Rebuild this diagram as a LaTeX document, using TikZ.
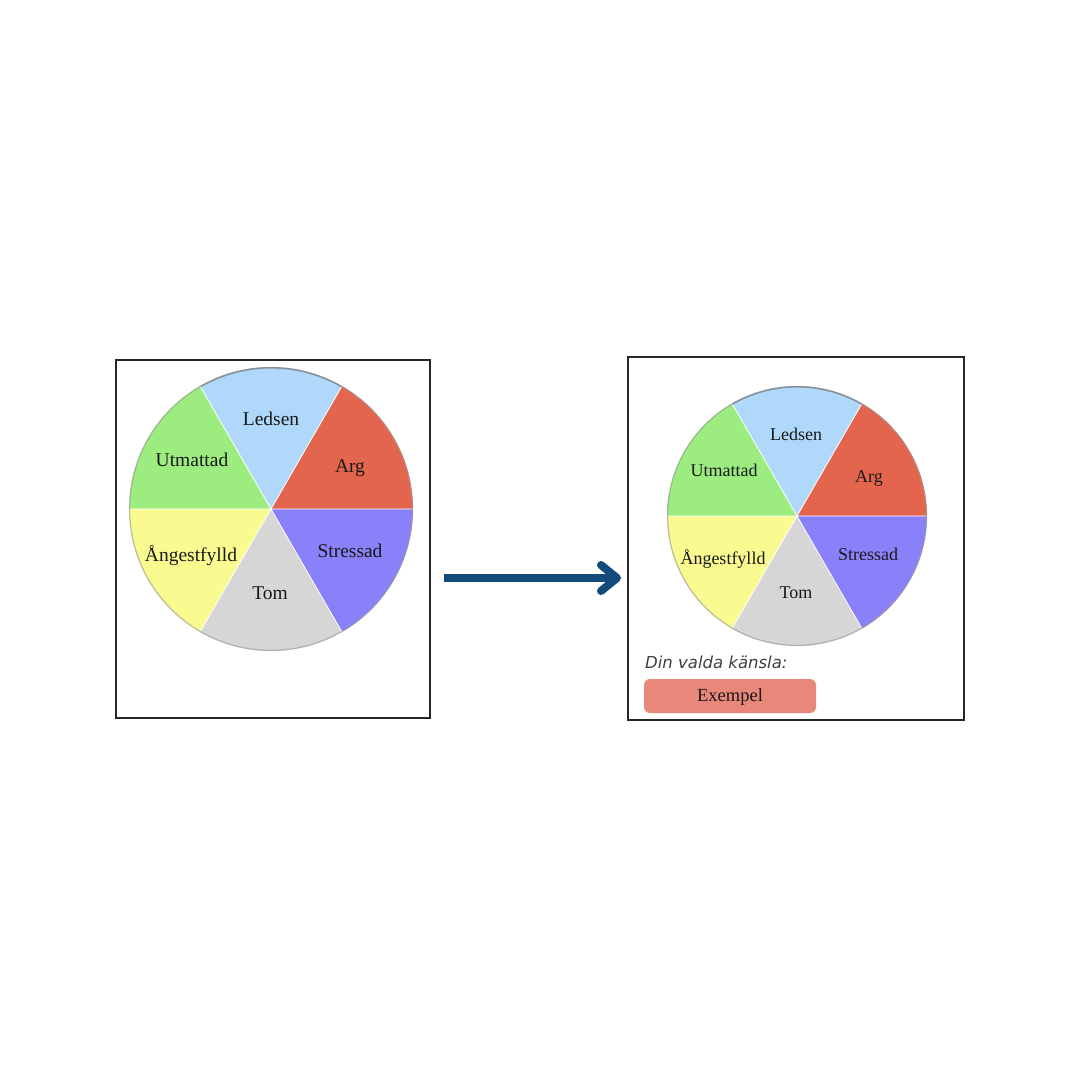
\documentclass[tikz,border=0pt]{standalone}
\usepackage{fontspec}
\usetikzlibrary{calc}
\setmainfont{Liberation Serif}
\newfontfamily\uisans{DejaVu Sans}
\definecolor{cArg}{HTML}{E4654E}
\definecolor{cLed}{HTML}{B0D8FA}
\definecolor{cUtm}{HTML}{9DEC80}
\definecolor{cAng}{HTML}{F9FB90}
\definecolor{cTom}{HTML}{D6D6D6}
\definecolor{cStr}{HTML}{8A80F9}
\definecolor{arrowblue}{HTML}{134A7C}
\definecolor{btn}{HTML}{E8877A}
\tikzset{
  frame/.style={draw=black!85, line width=1.5pt},
  sector/.style={draw=white, line width=0.8pt, line join=round},
  lbl/.style={font=\fontsize{19.5}{21}\selectfont, text=black!90, inner sep=0pt},
  lbls/.style={font=\fontsize{18}{20}\selectfont, text=black!90, inner sep=0pt},
  rim/.style={draw=black!40, line width=1.3pt, opacity=0.6},
}
% with y pointing down, a visual angle a is written as -a
\newcommand{\wheel}[2]{%
  \fill[cArg] (#1) -- ++(0:#2) arc[start angle=0,end angle=-60,radius=#2] -- cycle;
  \fill[cLed] (#1) -- ++(-60:#2) arc[start angle=-60,end angle=-120,radius=#2] -- cycle;
  \fill[cUtm] (#1) -- ++(-120:#2) arc[start angle=-120,end angle=-180,radius=#2] -- cycle;
  \fill[cAng] (#1) -- ++(-180:#2) arc[start angle=-180,end angle=-240,radius=#2] -- cycle;
  \fill[cTom] (#1) -- ++(-240:#2) arc[start angle=-240,end angle=-300,radius=#2] -- cycle;
  \fill[cStr] (#1) -- ++(-300:#2) arc[start angle=-300,end angle=-360,radius=#2] -- cycle;
  \draw[sector] (#1) -- ++(0:#2) (#1) -- ++(60:#2) (#1) -- ++(120:#2)
                (#1) -- ++(180:#2) (#1) -- ++(240:#2) (#1) -- ++(300:#2);
  \draw[rim] (#1) circle[radius=#2-0.6];
  \draw[draw=black!60, line width=1.6pt, opacity=0.45]
     ($(#1)+(-60:#2-0.8)$) arc[start angle=-60,end angle=-120,radius=#2-0.8];
}
\begin{document}
\begin{tikzpicture}[x=1pt,y=-1pt]
\useasboundingbox[fill=white] (0,0) rectangle (1080,1080);

% left panel
\draw[frame] (116,360) rectangle (430,718);
\coordinate (lc) at (271,509);
\wheel{lc}{142}
\node[lbl] (l-led) at (271,419) {Ledsen};
\node[lbl] (l-arg) at (350,468) {Arg};
\node[lbl] (l-utm) at (192,460) {Utmattad};
\node[lbl] (l-ang) at (191,556) {Ångestfylld};
\node[lbl] (l-tom) at (270,593) {Tom};
\node[lbl] (l-str) at (350,551) {Stressad};

% right panel
\draw[frame] (628,357) rectangle (964,720);
\coordinate (rc) at (797,516);
\wheel{rc}{130}
\node[lbls] (r-led) at (796,434) {Ledsen};
\node[lbls] (r-arg) at (869,478) {Arg};
\node[lbls] (r-utm) at (724,470) {Utmattad};
\node[lbls] (r-ang) at (723,559) {Ångestfylld};
\node[lbls] (r-tom) at (796,593) {Tom};
\node[lbls] (r-str) at (868,554) {Stressad};

\node[anchor=base west, inner sep=0pt, text=black!75,
      font=\uisans\itshape\fontsize{16.5}{18}\selectfont] (din) at (645,668) {Din valda känsla:};
\node[fill=btn, rounded corners=6pt, minimum width=172pt, minimum height=34pt,
      inner sep=0pt] (btn) at (730,696) {};
\node[inner sep=0pt, font=\fontsize{18.5}{20}\selectfont, text=black!90] (btntext) at (730,697) {Exempel};

% arrow
\coordinate (a0) at (444,578);
\coordinate (a1) at (617,578);
\draw[arrowblue, line width=8pt] (a0) -- ($(a1)+(-4,0)$);
\draw[arrowblue, line width=8pt, line cap=round, line join=round]
  ($(a1)+(-16,-13)$) -- (a1) -- ($(a1)+(-16,13)$);
\end{tikzpicture}
\end{document}
